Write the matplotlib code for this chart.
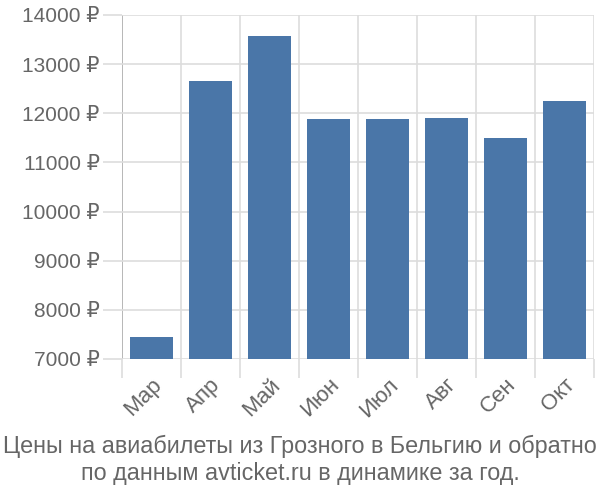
import matplotlib
matplotlib.use("Agg")
import matplotlib.pyplot as plt

# цены по месяцам (руб.)
months = ["Мар", "Апр", "Май", "Июн", "Июл", "Авг", "Сен", "Окт"]
prices = [7450, 12650, 13570, 11880, 11880, 11910, 11490, 12260]
yticks = [7000, 8000, 9000, 10000, 11000, 12000, 13000, 14000]
title = "Цены на авиабилеты из Грозного в Бельгию и обратно\nпо данным avticket.ru в динамике за год."

plt.rcParams['font.family'] = ['Liberation Sans', 'DejaVu Sans']

grid_c = "#dddddd"
text_c = "#666666"

fig = plt.figure(figsize=(6, 5), dpi=100)
ax = fig.add_axes([0.203, 0.282, 0.787, 0.688])

x = list(range(len(months)))
ax.bar(x, prices, width=0.72, color="#4a76a8", zorder=3)

ax.set_ylim(7000, 14000)
ax.set_xlim(-0.5, len(months) - 0.5)
ax.set_yticks(yticks)
ax.set_yticklabels([f"{v} ₽" for v in yticks])
ax.set_xticks(x)
ax.set_xticklabels(months, rotation=45, ha="right", rotation_mode="anchor")
ax.set_xticks([i - 0.5 for i in range(len(months) + 1)], minor=True)

for s in ax.spines.values():
    s.set_visible(False)

ax.grid(axis="y", color=grid_c, linewidth=1.2, zorder=0)
ax.grid(axis="x", which="minor", color=grid_c, linewidth=1.2, zorder=0)
ax.tick_params(axis="y", length=14, color=grid_c, width=1.2, labelsize=15, labelcolor=text_c, pad=2)
ax.tick_params(axis="x", which="major", length=0, labelsize=16, labelcolor=text_c, pad=11)
ax.tick_params(axis="x", which="minor", length=14, color=grid_c, width=1.2)

# левая ось темнее
t0 = ax.xaxis.get_minor_ticks()[0]
t0.tick1line.set_color("#aaaaaa")
t0.gridline.set_color("#aaaaaa")

fig.text(0.5, 0.04, title, ha="center", va="baseline", fontsize=16.8, color=text_c, linespacing=1.2)

fig.savefig("out.png", dpi=100)
